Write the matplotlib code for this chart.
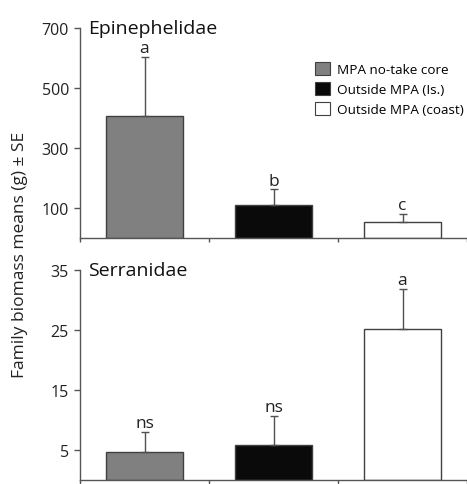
import numpy as np
import matplotlib.pyplot as plt
from matplotlib.patches import Patch

plt.rcParams['font.family'] = ['Open Sans', 'DejaVu Sans']

## DATA
groups = ['MPA no-take core', 'Outside MPA (Is.)', 'Outside MPA (coast)']
colors = ['#808080', '#0a0a0a', '#ffffff']

epi_mean = [407, 111, 52]
epi_se = [197, 51, 28]
epi_lbl = ['a', 'b', 'c']

ser_mean = [4.7, 5.9, 25.2]
ser_se = [3.3, 4.7, 6.6]
ser_lbl = ['ns', 'ns', 'a']

epi_ticks = [100, 300, 500, 700]
ser_ticks = [5, 15, 25, 35]

EDGE = '#404040'
AXC = '#555555'

fig = plt.figure(figsize=(4.67, 4.85), dpi=100)
axTop = fig.add_axes([80/467, 1-239/485, 1-80/467, 210/485])
axBot = fig.add_axes([80/467, 1-481/485, 1-80/467, 210/485])


def drawPanel(ax, means, ses, lbls, ticks, ymax, title, off):
	x = np.arange(len(means))
	ax.bar(x, means, width=0.6, color=colors, edgecolor=EDGE, linewidth=1.0,
		yerr=[np.zeros(len(ses)), ses], error_kw=dict(ecolor='#505050', elinewidth=1.0, capsize=3, capthick=1.0))
	for xi, m, s, l in zip(x, means, ses, lbls):
		ax.text(xi, m+s+off, l, ha='center', va='bottom', fontsize=12.5, color='#222222')
	ax.set_xlim(-0.5, 2.5)
	ax.set_ylim(0, ymax)
	ax.set_yticks(ticks)
	ax.set_xticks([-0.5, 0.5, 1.5, 2.5])
	ax.set_xticklabels([])
	for s in ['top', 'right']:
		ax.spines[s].set_visible(False)
	for s in ['left', 'bottom']:
		ax.spines[s].set_color(AXC)
		ax.spines[s].set_linewidth(1.0)
	ax.tick_params(axis='y', colors=AXC, labelcolor='#222222', labelsize=11.5, length=4, width=1.0, pad=4)
	ax.tick_params(axis='x', colors=AXC, length=3, width=1.0)
	ax.text(0.02, 1.0, title, transform=ax.transAxes, ha='left', va='center', fontsize=14, color='#111111')
	ax.patch.set_alpha(0)


drawPanel(axTop, epi_mean, epi_se, epi_lbl, epi_ticks, 700, 'Epinephelidae', 3)
drawPanel(axBot, ser_mean, ser_se, ser_lbl, ser_ticks, 35, 'Serranidae', 0.15)

handles = [Patch(facecolor=c, edgecolor=EDGE, linewidth=0.8) for c in colors]
axTop.legend(handles, groups, loc='upper right', bbox_to_anchor=(1.005, 0.865), frameon=False,
	fontsize=9.7, handlelength=1.15, handleheight=1.15, handletextpad=0.5, labelspacing=0.42, borderaxespad=0)

fig.text(20/467, 1-255/485, 'Family biomass means (g) ± SE', rotation=90, ha='center', va='center', fontsize=12.5, color='#222222')

plt.savefig('out.png', dpi=100)
